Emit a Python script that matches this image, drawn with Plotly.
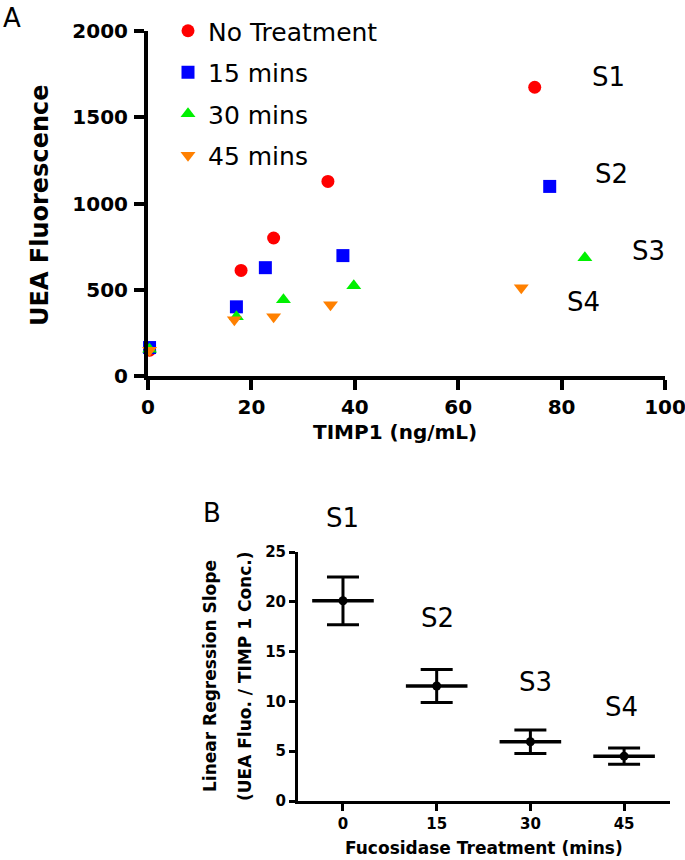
import plotly.graph_objects as go

# panel A: UEA fluorescence vs TIMP1 concentration
groups = ["No Treatment", "15 mins", "30 mins", "45 mins"]
timp1_none = [0.3, 18.0, 24.3, 34.8, 74.8]
uea_none = [150, 612, 800, 1128, 1674]
timp1_15 = [0.3, 17.1, 22.7, 37.7, 77.7]
uea_15 = [165, 401, 628, 698, 1099]
timp1_30 = [0.3, 17.1, 26.2, 39.8, 84.5]
uea_30 = [155, 343, 442, 523, 686]
timp1_45 = [0.3, 16.7, 24.3, 35.3, 72.2]
uea_45 = [150, 326, 343, 413, 512]
sample_labels = ["S1", "S2", "S3", "S4"]

# panel B: regression slopes
fuco_mins = ["0", "15", "30", "45"]
slope_mean = [20.1, 11.55, 5.95, 4.5]
slope_err = [2.4, 1.65, 1.17, 0.82]

W, H = 685, 860
FONT = "DejaVu Sans"


def px_x(p):
    return p / W


def px_y(p):
    return 1 - p / H


symbols = ["circle", "square", "triangle-up", "triangle-down"]
colors = ["#FF0000", "#0000FF", "#00F000", "#FF8000"]
xs_all = [timp1_none, timp1_15, timp1_30, timp1_45]
ys_all = [uea_none, uea_15, uea_30, uea_45]

fig = go.Figure()
for name, xs, ys, sym, col in zip(groups, xs_all, ys_all, symbols, colors):
    fig.add_trace(go.Scatter(
        x=xs, y=ys, mode="markers", name=name, legendgroup=name,
        marker=dict(symbol=sym, size=13, color=col),
        cliponaxis=False, xaxis="x", yaxis="y"))

# mean bars with SD error bars
fig.add_trace(go.Scatter(
    x=fuco_mins, y=slope_mean, mode="markers", showlegend=False,
    marker=dict(symbol="line-ew", size=44, line=dict(width=3.5, color="black")),
    error_y=dict(type="data", array=slope_err, thickness=3, width=16, color="black"),
    cliponaxis=False, xaxis="x2", yaxis="y2"))
fig.add_trace(go.Scatter(
    x=fuco_mins, y=slope_mean, mode="markers", showlegend=False,
    marker=dict(symbol="circle", size=9, color="black"),
    cliponaxis=False, xaxis="x2", yaxis="y2"))

axis_common = dict(showgrid=False, zeroline=False, showline=True, linecolor="black",
                   ticks="outside", tickcolor="black", ticklabeloverflow="allow")

fig.update_layout(
    width=W, height=H, margin=dict(l=0, r=0, t=0, b=0, autoexpand=False),
    paper_bgcolor="white", plot_bgcolor="white",
    font=dict(family=FONT, color="black"),
    xaxis=dict(domain=[px_x(148), px_x(665)], range=[0, 100], tickvals=[0, 20, 40, 60, 80, 100],
               linewidth=4, ticklen=10, tickwidth=4, anchor="y",
               tickfont=dict(size=20, weight="bold"), **axis_common),
    yaxis=dict(domain=[px_y(376), px_y(31)], range=[0, 2000], tickvals=[0, 500, 1000, 1500, 2000],
               linewidth=4, ticklen=10, tickwidth=4, anchor="x", ticklabelstandoff=2,
               tickfont=dict(size=20, weight="bold"), **axis_common),
    xaxis2=dict(domain=[px_x(298), px_x(670)], type="category", range=[-0.48, 3.49],
                linewidth=3, ticklen=7, tickwidth=3, anchor="y2",
                tickfont=dict(size=15, weight="bold"), **axis_common),
    yaxis2=dict(domain=[px_y(801), px_y(552)], range=[0, 25], tickvals=[0, 5, 10, 15, 20, 25],
                linewidth=3, ticklen=6, tickwidth=3, anchor="x2",
                tickfont=dict(size=15, weight="bold"), **axis_common),
    legend=dict(x=px_x(168), y=px_y(8), xanchor="left", yanchor="top",
                font=dict(size=25, family=FONT), tracegroupgap=6,
                bgcolor="rgba(0,0,0,0)"),
)

ann = []


def add_text(text, x, y, size, bold=False, angle=0):
    ann.append(dict(text=text, x=px_x(x), y=px_y(y), xref="paper", yref="paper",
                    showarrow=False, xanchor="center", yanchor="middle", textangle=angle,
                    font=dict(size=size, family=FONT, color="black",
                              weight="bold" if bold else "normal")))


add_text("A", 12, 18, 26)
add_text("B", 212, 513, 26)
add_text("UEA Fluorescence", 40, 205, 24, bold=True, angle=-90)
add_text("TIMP1 (ng/mL)", 395, 432, 20, bold=True)
add_text("Linear Regression Slope", 210, 676, 17, bold=True, angle=-90)
add_text("(UEA Fluo. / TIMP 1 Conc.)", 245, 676, 17, bold=True, angle=-90)
add_text("Fucosidase Treatment (mins)", 484, 848, 17, bold=True)

top_label_pos = [(608, 77), (611, 174), (648, 251), (583, 302)]
bottom_label_pos = [(342, 518), (437, 618), (535, 682), (621, 707)]
for lab, (x, y) in zip(sample_labels, top_label_pos):
    add_text(lab, x, y, 26)
for lab, (x, y) in zip(sample_labels, bottom_label_pos):
    add_text(lab, x, y, 26)

fig.update_layout(annotations=ann)
# drop the default page margin so the 685x860 figure fills the window
fig.write_html("out.html", config={"displayModeBar": False},
               post_script="document.body.style.margin = '0';")
